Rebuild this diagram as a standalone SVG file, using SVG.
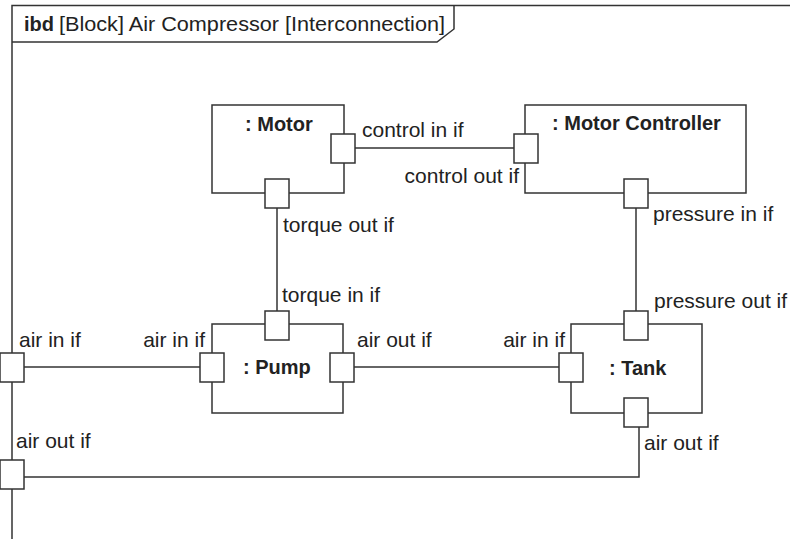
<svg xmlns="http://www.w3.org/2000/svg" width="790" height="539" viewBox="0 0 790 539">
<style>
.ln{fill:none;stroke:#333;stroke-width:1.5}
.box{fill:#fff;stroke:#333;stroke-width:1.5}
.port{fill:#fff;stroke:#333;stroke-width:1.5}
text{font-family:"Liberation Sans",Arial,sans-serif;fill:#222}
.t{font-size:21px}
.b{font-size:20px;font-weight:bold}
</style>
<rect x="0" y="0" width="790" height="539" fill="#fff"/>
<g id="frame">
<path class="ln" d="M12,539 V5.5 H790"/>
<path class="ln" d="M12,42 H437 L454,29 V5.5"/>
<text x="24" y="31" class="b">ibd</text>
<text x="59" y="31" class="t" textLength="386" lengthAdjust="spacingAndGlyphs">[Block] Air Compressor [Interconnection]</text>
<rect class="port" x="0" y="353" width="24" height="29"/>
<rect class="port" x="0" y="460" width="24" height="29"/>
<text x="19" y="347" class="t">air in if</text>
<text x="16" y="448" class="t">air out if</text>
</g>
<g id="connectors">
<path class="ln" d="M355,148 H514"/>
<path class="ln" d="M277,208 V311"/>
<path class="ln" d="M636,208 V311"/>
<path class="ln" d="M24,367 H200"/>
<path class="ln" d="M354,367 H559"/>
<path class="ln" d="M639,427 V477 H24"/>
</g>
<g id="motor">
<rect class="box" x="212" y="105" width="132" height="88"/>
<text x="245" y="131" class="b">: Motor</text>
<rect class="port" x="331" y="134" width="24" height="29"/>
<rect class="port" x="265" y="179" width="24" height="29"/>
<text x="362" y="137" class="t">control in if</text>
<text x="283" y="232" class="t">torque out if</text>
</g>
<g id="motor-controller">
<rect class="box" x="525" y="105" width="221" height="88"/>
<text x="552" y="130" class="b">: Motor Controller</text>
<rect class="port" x="514" y="134" width="24" height="29"/>
<rect class="port" x="624" y="179" width="24" height="29"/>
<text x="519" y="183" class="t" text-anchor="end">control out if</text>
<text x="653" y="221" class="t">pressure in if</text>
</g>
<g id="pump">
<rect class="box" x="212" y="324" width="131" height="89"/>
<text x="243" y="374" class="b">: Pump</text>
<rect class="port" x="265" y="311" width="24" height="29"/>
<rect class="port" x="200" y="353" width="24" height="29"/>
<rect class="port" x="330" y="353" width="24" height="29"/>
<text x="282" y="302" class="t">torque in if</text>
<text x="205" y="347" class="t" text-anchor="end">air in if</text>
<text x="357" y="347" class="t">air out if</text>
</g>
<g id="tank">
<rect class="box" x="571" y="324" width="131" height="89"/>
<text x="609" y="375" class="b">: Tank</text>
<rect class="port" x="624" y="311" width="24" height="29"/>
<rect class="port" x="559" y="353" width="24" height="29"/>
<rect class="port" x="624" y="398" width="24" height="29"/>
<text x="654" y="308" class="t">pressure out if</text>
<text x="565" y="347" class="t" text-anchor="end">air in if</text>
<text x="644" y="450" class="t">air out if</text>
</g>
</svg>
